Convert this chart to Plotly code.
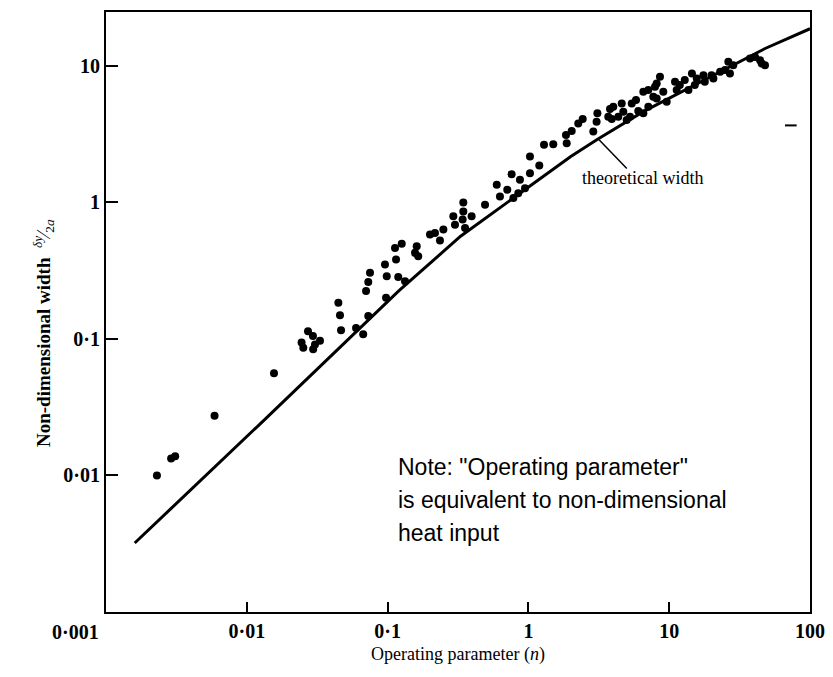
import math
import plotly.graph_objects as go

# ---- data ----
# experimental points: operating parameter n, non-dimensional width
n_exp = [0.0023, 0.0029, 0.0031, 0.0059, 0.0156,
         0.0272, 0.0245, 0.0295, 0.0331, 0.0305, 0.0252, 0.0296,
         0.0447, 0.0459, 0.0467, 0.0597, 0.0671, 0.0729, 0.0703, 0.0729, 0.075,
         0.0958, 0.0986, 0.0975, 0.1148, 0.119, 0.133, 0.1129, 0.126,
         0.161, 0.1566, 0.165, 0.200, 0.217, 0.2355, 0.249, 0.293, 0.301,
         0.345, 0.341, 0.395, 0.355, 0.345, 0.492, 0.596, 0.628, 0.708, 0.760,
         0.782, 0.847, 0.871, 0.946, 1.026, 1.026, 1.195, 1.291, 1.502, 1.871,
         1.849, 2.03, 2.26, 2.43, 2.89, 3.05, 3.09, 3.69, 3.80, 4.01, 3.91,
         4.35, 4.60, 4.72, 4.99, 5.27, 5.42, 5.81, 6.03, 6.55, 7.11, 6.55,
         7.11, 7.71, 8.15, 7.93, 8.15, 8.60, 9.60, 9.08, 11.0, 11.9, 11.3,
         12.9, 13.7, 14.5, 15.2, 15.7, 17.5, 17.9, 20.0, 20.6, 23.0, 24.9,
         26.3, 28.5, 27.0, 37.5, 40.7, 44.2, 45.4, 47.9]
w_exp = [0.0100, 0.0133, 0.0138, 0.0274, 0.056,
         0.114, 0.094, 0.105, 0.097, 0.091, 0.086, 0.084,
         0.184, 0.149, 0.116, 0.120, 0.108, 0.147, 0.224, 0.261, 0.305,
         0.351, 0.288, 0.200, 0.382, 0.284, 0.265, 0.463, 0.497,
         0.478, 0.427, 0.404, 0.581, 0.597, 0.525, 0.632, 0.791, 0.687,
         0.859, 0.748, 0.791, 0.649, 1.0, 0.962, 1.346, 1.106, 1.238, 1.61,
         1.075, 1.169, 1.465, 1.271, 1.637, 2.167, 1.862, 2.64, 2.666, 2.71,
         3.12, 3.34, 3.79, 4.08, 3.30, 3.90, 4.49, 4.24, 4.83, 5.02, 4.08,
         4.24, 5.31, 4.62, 4.01, 4.24, 5.31, 5.62, 4.67, 4.49, 5.02, 6.46,
         6.65, 5.94, 5.77, 7.03, 7.43, 8.31, 5.46, 6.46, 7.64, 7.23, 6.65,
         7.87, 6.65, 8.79, 7.23, 8.08, 8.55, 7.64, 8.55, 8.08, 9.04, 9.31,
         10.7, 10.1, 8.79, 11.3, 11.6, 11.0, 10.4, 10.1]

# theoretical width curve
n_theory = [0.0016, 0.0124, 0.12, 0.33, 2.0, 3.1, 6.5, 48, 100]
w_theory = [0.0032, 0.0238, 0.225, 0.565, 2.17, 2.9, 4.6, 13.4, 18.7]

# leader line from the curve to its label
leader_n = [3.15, 5.0]
leader_w = [2.9, 1.77]

x_tickvals = [0.001, 0.01, 0.1, 1, 10, 100]
x_ticktext = ["", "0·01", "0·1", "1", "10", "100"]
y_tickvals = [0.001, 0.01, 0.1, 1, 10]
y_ticktext = ["", "0·01", "0·1", "1", "10"]

SERIF = "Liberation Serif, Times New Roman, serif"
SANS = "Liberation Sans, Arial, sans-serif"

fig = go.Figure()
fig.add_trace(go.Scatter(x=n_theory, y=w_theory, mode="lines",
                         line=dict(color="black", width=3), hoverinfo="skip",
                         showlegend=False))
fig.add_trace(go.Scatter(x=leader_n, y=leader_w, mode="lines",
                         line=dict(color="black", width=1.5), hoverinfo="skip",
                         showlegend=False))
fig.add_trace(go.Scatter(x=n_exp, y=w_exp, mode="markers",
                         marker=dict(color="black", size=8),
                         showlegend=False))

axis_common = dict(type="log", showline=True, linewidth=2, linecolor="black",
                   mirror=True, ticks="inside", tickwidth=2, tickcolor="black",
                   showgrid=False, zeroline=False,
                   tickfont=dict(family=SERIF, size=20, color="black", weight="bold"))

fig.update_xaxes(range=[-3, 2], tickvals=x_tickvals, ticktext=x_ticktext,
                 ticklen=10, **axis_common)
fig.update_yaxes(range=[-3, math.log10(24.8)], tickvals=y_tickvals,
                 ticktext=y_ticktext, ticklen=12, **axis_common)

annotations = [
    dict(text="0·001", xref="paper", yref="paper", x=-0.007, y=-0.033,
         xanchor="right", yanchor="middle", showarrow=False,
         font=dict(family=SERIF, size=20, color="black", weight="bold")),
    dict(text="Operating parameter (<i>n</i>)", xref="paper", yref="paper",
         x=0.5, y=-0.071, xanchor="center", yanchor="middle", showarrow=False,
         font=dict(family=SERIF, size=18, color="black")),
    dict(text="<b>Non-dimensional width</b>  <sup><i>δy</i></sup>⁄<sub>2<i>a</i></sub>",
         xref="paper", yref="paper", x=-0.088, y=0.465, textangle=-90,
         xanchor="center", yanchor="middle", showarrow=False,
         font=dict(family=SERIF, size=19, color="black")),
    dict(text="theoretical width", xref="x", yref="y",
         x=math.log10(6.5), y=math.log10(1.5), xanchor="center", yanchor="middle",
         showarrow=False, font=dict(family=SERIF, size=18, color="black")),
]
note_lines = ['Note: "Operating parameter"', "is equivalent to non-dimensional", "heat input"]
note_y = [0.241, 0.186, 0.131]
for t, yy in zip(note_lines, note_y):
    annotations.append(dict(text=t, xref="paper", yref="paper", x=0.412, y=yy,
                            xanchor="left", yanchor="middle", showarrow=False,
                            font=dict(family=SANS, size=23, color="black")))

# the page body adds an 8px offset, so the figure is shrunk to keep the frame in place
fig.update_layout(
    width=825, height=669,
    margin=dict(l=98, r=23, t=2, b=65),
    paper_bgcolor="white", plot_bgcolor="white",
    annotations=annotations,
    shapes=[dict(type="line", xref="paper", yref="paper", x0=0.9645, x1=0.981,
                 y0=0.811, y1=0.811, line=dict(color="black", width=2))],
)

fig.write_html("out.html")
